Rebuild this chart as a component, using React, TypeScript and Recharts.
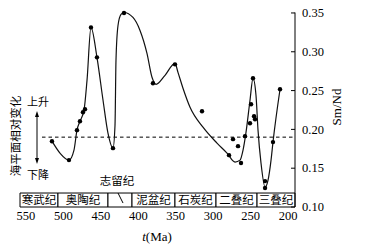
import React from "react";
import {
  ComposedChart,
  Line,
  Scatter,
  XAxis,
  YAxis,
  ReferenceArea,
  ReferenceLine,
  ReferenceDot,
  Customized,
} from "recharts";

// Smooth trend curve (age in Ma, Sm/Nd)
const curveAge = [
  515.3, 504.6, 492.6, 485.9, 481.9, 477.9, 472.5, 468.5, 463.2, 455.2, 447.1,
  440.5, 433.8, 431.1, 429.8, 427.1, 423.1, 419.1, 407.1, 397.7, 388.4, 381.7,
  376.3, 364.3, 351, 347, 340.3, 330.9, 313.6, 294.9, 281.5, 270.8, 264.1,
  260.1, 256.1, 250.8, 246.8, 242.8, 240.1, 236.1, 230.7, 226.7, 222.7, 220.1,
  210.7,
];
const curveRatio = [
  0.1848, 0.1694, 0.1604, 0.1733, 0.199, 0.2105, 0.2247, 0.2632, 0.3314,
  0.2928, 0.2375, 0.1951, 0.1758, 0.2054, 0.2889, 0.3339, 0.3481, 0.3506,
  0.3442, 0.3275, 0.2979, 0.2671, 0.2581, 0.2697, 0.2851, 0.2735, 0.253,
  0.2285, 0.2028, 0.1823, 0.1694, 0.1579, 0.1604, 0.1733, 0.1964, 0.2375,
  0.2658, 0.244, 0.199, 0.1566, 0.1257, 0.1347, 0.1604, 0.1836, 0.2517,
];

// Measured samples
const sampleAge = [
  515.3, 492.6, 481.9, 477.9, 473.9, 471.2, 463.2, 455.2, 433.8, 419.1, 380.4,
  351, 314.9, 278.8, 273.5, 266.8, 262.8, 257.5, 250.8, 249.4, 246.8, 245.4,
  244.1, 230.7, 230.7, 220.1, 210.7,
];
const sampleRatio = [
  0.1848, 0.1604, 0.199, 0.2105, 0.2221, 0.226, 0.3314, 0.2928, 0.1758, 0.35,
  0.2594, 0.2838, 0.2234, 0.1668, 0.1874, 0.1784, 0.1566, 0.1913, 0.208,
  0.2324, 0.2658, 0.217, 0.2131, 0.1334, 0.1244, 0.1836, 0.2517,
];

// Geological period band
const periodNames = ["寒武纪", "奥陶纪", "", "泥盆纪", "石炭纪", "二叠纪", "三叠纪"];
const periodBounds = [558, 507.3, 440.5, 408.4, 351, 296.2, 241.4, 190.7];

const xTicks = [550, 500, 450, 400, 350, 300, 250, 200];
const yTicks = [0.1, 0.15, 0.2, 0.25, 0.3, 0.35];
const seaLevelRatio = 0.19;

const curveData = curveAge.map((t, i) => ({ t, v: curveRatio[i] }));
const sampleData = sampleAge.map((t, i) => ({ t, v: sampleRatio[i] }));

const SERIF = "'Liberation Serif', 'DejaVu Serif', serif";
const CJK = "'Noto Sans CJK SC', sans-serif";

const XTick = (props: any) => {
  const { x, y, payload } = props;
  return (
    <text x={x} y={y + 12.5} textAnchor="middle" fontFamily={SERIF} fontSize={12.5} fill="#000">
      {payload.value}
    </text>
  );
};

const YTick = (props: any) => {
  const { x, y, payload } = props;
  return (
    <g>
      <line x1={x - 4} x2={x} y1={y} y2={y} stroke="#000" strokeWidth={1} />
      <text x={x + 7} y={y + 4.3} textAnchor="start" fontFamily={SERIF} fontSize={12.5} fill="#000">
        {Number(payload.value).toFixed(2)}
      </text>
    </g>
  );
};

const Overlay = () => (
  <g>
    <text
      x={15}
      y={136}
      transform="rotate(-90 15 136)"
      textAnchor="middle"
      dominantBaseline="central"
      fontFamily={CJK}
      fontSize={11.5}
      fill="#000"
    >
      海平面相对变化
    </text>
    <text x={38} y={105.5} textAnchor="middle" fontFamily={CJK} fontSize={11} fill="#000">
      上升
    </text>
    <text x={38} y={178.5} textAnchor="middle" fontFamily={CJK} fontSize={11} fill="#000">
      下降
    </text>
    <line x1={37} x2={37} y1={114} y2={161} stroke="#000" strokeWidth={1} />
    <polygon points="37,111 35,117 39,117" fill="#000" />
    <polygon points="37,164 35,158 39,158" fill="#000" />
    <text x={117} y={185} textAnchor="middle" fontFamily={CJK} fontSize={11.5} fill="#000">
      志留纪
    </text>
    <text x={157} y={241} textAnchor="middle" fontFamily={SERIF} fontSize={13} fill="#000">
      <tspan fontStyle="italic">t</tspan>(Ma)
    </text>
    <text
      x={336}
      y={107}
      transform="rotate(-90 336 107)"
      textAnchor="middle"
      dominantBaseline="central"
      fontFamily={SERIF}
      fontSize={13}
      fill="#000"
    >
      Sm/Nd
    </text>
  </g>
);

const Dot = (props: any) => {
  const { cx, cy } = props;
  return <circle cx={cx} cy={cy} r={2.2} fill="#000" />;
};

export default function App() {
  return (
    <div style={{ position: "absolute", left: 0, top: 0, width: 392, height: 247, background: "#fff" }}>
      <ComposedChart
        width={392}
        height={247}
        margin={{ top: 12.5, right: 37, bottom: 10, left: 20 }}
      >
        <XAxis
          type="number"
          dataKey="t"
          domain={[190.7, 558]}
          reversed
          allowDataOverflow
          ticks={xTicks}
          tick={<XTick />}
          tickSize={0}
          tickMargin={0}
          axisLine={false}
          tickLine={false}
          height={30}
          interval={0}
        />
        <YAxis
          yAxisId={0}
          type="number"
          orientation="right"
          domain={[0.1, 0.35]}
          ticks={yTicks}
          tick={<YTick />}
          tickSize={0}
          tickMargin={0}
          tickLine={false}
          axisLine={{ stroke: "#000", strokeWidth: 1 }}
          width={60}
          interval={0}
        />
        {periodNames.map((name, i) => (
          <ReferenceArea
            key={i}
            x1={periodBounds[i]}
            x2={periodBounds[i + 1]}
            y1={0.1}
            y2={0.118}
            fill="#fff"
            fillOpacity={1}
            stroke="#000"
            strokeWidth={1}
            ifOverflow="visible"
            label={
              name
                ? { value: name, position: "center", fontFamily: CJK, fontSize: 11.5, fill: "#000" }
                : undefined
            }
          />
        ))}
        <ReferenceLine
          segment={[
            { x: 427.1, y: 0.118 },
            { x: 420.4, y: 0.1051 },
          ]}
          stroke="#000"
          strokeWidth={1}
          ifOverflow="visible"
        />
        <ReferenceLine
          segment={[
            { x: 528.6, y: seaLevelRatio },
            { x: 190.7, y: seaLevelRatio },
          ]}
          stroke="#000"
          strokeWidth={1}
          strokeDasharray="3.5 3"
          ifOverflow="visible"
        />
        <Line
          data={curveData}
          dataKey="v"
          type="monotone"
          stroke="#111"
          strokeWidth={1.2}
          dot={false}
          activeDot={false}
          isAnimationActive={false}
        />
        <Scatter data={sampleData} dataKey="v" shape={<Dot />} isAnimationActive={false} />
        <Customized component={<Overlay />} />
      </ComposedChart>
    </div>
  );
}
